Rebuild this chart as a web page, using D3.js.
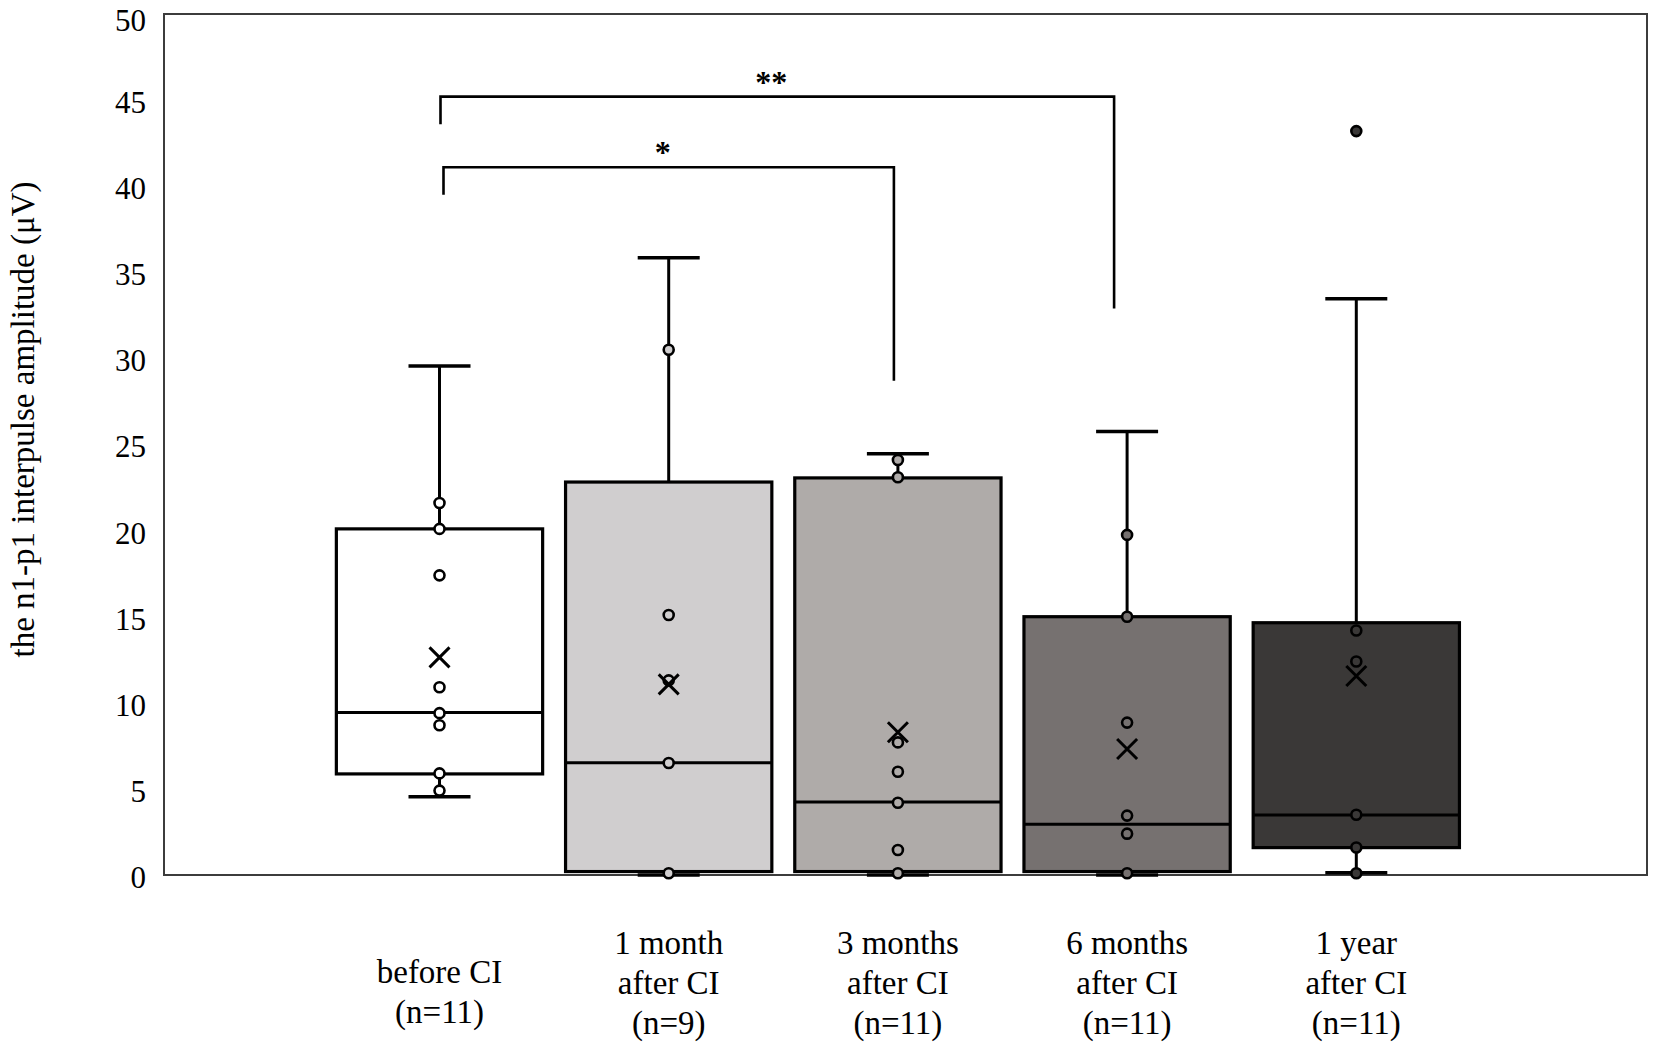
<!DOCTYPE html>
<html>
<head>
<meta charset="utf-8">
<script src="https://cdn.jsdelivr.net/npm/d3@7"></script>
<style>
  html, body { margin: 0; padding: 0; background: #ffffff; }
  svg { display: block; }
  text { font-family: "Liberation Serif", "Times New Roman", serif; fill: #000; }
</style>
</head>
<body>
<svg id="chart" width="1654" height="1048"></svg>
<script>
// ---------- data ----------
const categories = ["before CI", "1 month after CI", "3 months after CI", "6 months after CI", "1 year after CI"];
const labelLines = [
  ["before CI", "(n=11)"],
  ["1 month", "after CI", "(n=9)"],
  ["3 months", "after CI", "(n=11)"],
  ["6 months", "after CI", "(n=11)"],
  ["1 year", "after CI", "(n=11)"]
];
const mins    = [4.55, 0, 0, 0, 0.13];
const q1s     = [5.87, 0.2, 0.2, 0.2, 1.59];
const medians = [9.43, 6.52, 4.24, 2.94, 3.48];
const q3s     = [20.1, 22.82, 23.06, 15.0, 14.65];
const maxs    = [29.56, 35.85, 24.47, 25.75, 33.47];
const means   = [12.64, 11.07, 8.29, 7.32, 11.56];
const innerPoints = [
  [21.6, 20.1, 17.4, 10.9, 9.4, 8.7, 5.9, 4.9],
  [30.5, 15.1, 11.3, 6.5, 0.1],
  [24.1, 23.1, 7.7, 6.0, 4.2, 1.45, 0.1],
  [19.75, 15.0, 8.85, 3.45, 2.4, 0.1],
  [14.2, 12.4, 3.5, 1.6, 0.1]
];
const outliers = [[], [], [], [], [43.2]];
const fills = ["#ffffff", "#d0cecf", "#afaba9", "#767170", "#3a3837"];
const yTicks = [0, 5, 10, 15, 20, 25, 30, 35, 40, 45, 50];
const yTitle = "the n1-p1 interpulse amplitude (\u03bcV)";
// significance brackets: from/to category index, bar height, leg ends (values)
const brackets = [
  { from: 0, to: 3, top: 45.2, leftEnd: 43.6, rightEnd: 32.9, label: "**" },
  { from: 0, to: 2, top: 41.1, leftEnd: 39.5, rightEnd: 28.7, label: "*" }
];

// ---------- layout ----------
const plotLeft = 164, plotRight = 1647, plotTop = 14, plotBottom = 875;
const svg = d3.select("#chart");

const y = d3.scaleLinear().domain([0, 50]).range([plotBottom, plotTop]);
const x = d3.scaleBand().domain(categories).range([324.9, 1470.9]).paddingInner(0.1).paddingOuter(0.05);
const cx = i => x(categories[i]) + x.bandwidth() / 2;

// frame
svg.append("rect")
  .attr("x", plotLeft).attr("y", plotTop)
  .attr("width", plotRight - plotLeft).attr("height", plotBottom - plotTop)
  .attr("fill", "none").attr("stroke", "#3c3c3c").attr("stroke-width", 2);

// y axis via d3 axis (labels only)
const yAxis = d3.axisLeft(y).tickValues(yTicks).tickSize(0).tickPadding(18).tickFormat(d3.format("d"));
const gy = svg.append("g").attr("transform", `translate(${plotLeft},0)`).call(yAxis);
gy.select(".domain").remove();
gy.selectAll("text")
  .style("font-family", '"Liberation Serif", "Times New Roman", serif')
  .style("font-size", "31px").attr("fill", "#000")
  .attr("dy", d => d === 50 ? "0.52em" : "0.4em");

// y title
svg.append("text")
  .attr("transform", `translate(34,${(plotTop + plotBottom) / 2 - 25}) rotate(-90)`)
  .attr("text-anchor", "middle")
  .style("font-size", "33px")
  .text(yTitle);

// boxes
const capHalf = 31;
categories.forEach((c, i) => {
  const g = svg.append("g");
  const xc = cx(i);
  const bw = x.bandwidth();
  // whiskers
  g.append("line").attr("x1", xc).attr("x2", xc).attr("y1", y(q3s[i])).attr("y2", y(maxs[i]))
    .attr("stroke", "#000").attr("stroke-width", 3);
  g.append("line").attr("x1", xc).attr("x2", xc).attr("y1", y(q1s[i])).attr("y2", y(mins[i]))
    .attr("stroke", "#000").attr("stroke-width", 3);
  // caps
  [maxs[i], mins[i]].forEach(v => {
    g.append("line").attr("x1", xc - capHalf).attr("x2", xc + capHalf).attr("y1", y(v)).attr("y2", y(v))
      .attr("stroke", "#000").attr("stroke-width", 3.5);
  });
  // box
  g.append("rect")
    .attr("x", x(c)).attr("y", y(q3s[i]))
    .attr("width", bw).attr("height", y(q1s[i]) - y(q3s[i]))
    .attr("fill", fills[i]).attr("stroke", "#000").attr("stroke-width", 3.2);
  // median
  g.append("line").attr("x1", x(c)).attr("x2", x(c) + bw).attr("y1", y(medians[i])).attr("y2", y(medians[i]))
    .attr("stroke", "#000").attr("stroke-width", 3);
  // inner points
  g.selectAll("circle.pt").data(innerPoints[i].concat(outliers[i])).join("circle")
    .attr("class", "pt")
    .attr("cx", xc).attr("cy", d => y(d)).attr("r", 5)
    .attr("fill", fills[i]).attr("stroke", "#000").attr("stroke-width", 2.6);
  // mean marker (x)
  const m = y(means[i]), s = 10;
  g.append("path")
    .attr("d", `M${xc - s},${m - s}L${xc + s},${m + s}M${xc - s},${m + s}L${xc + s},${m - s}`)
    .attr("stroke", "#000").attr("stroke-width", 3).attr("fill", "none");
});

// x category labels
const lineH = 40;
labelLines.forEach((lines, i) => {
  const first = lines.length === 3 ? 954 : 983;
  const t = svg.append("text").attr("text-anchor", "middle").style("font-size", "33px");
  lines.forEach((ln, k) => {
    t.append("tspan").attr("x", cx(i)).attr("y", first + k * lineH).text(ln);
  });
});

// significance brackets
const legShift = [[1, -13], [4, -4]];
brackets.forEach((b, k) => {
  const xl = cx(b.from) + legShift[k][0];
  const xr = cx(b.to) + legShift[k][1];
  svg.append("path")
    .attr("d", `M${xl},${y(b.leftEnd)}V${y(b.top)}H${xr}V${y(b.rightEnd)}`)
    .attr("fill", "none").attr("stroke", "#000").attr("stroke-width", 2.6);
  svg.append("text")
    .attr("x", (xl + xr) / 2 - 6).attr("y", y(b.top) - 4)
    .attr("text-anchor", "middle").style("font-size", "32px").style("font-weight", "bold")
    .text(b.label);
});
</script>
</body>
</html>
